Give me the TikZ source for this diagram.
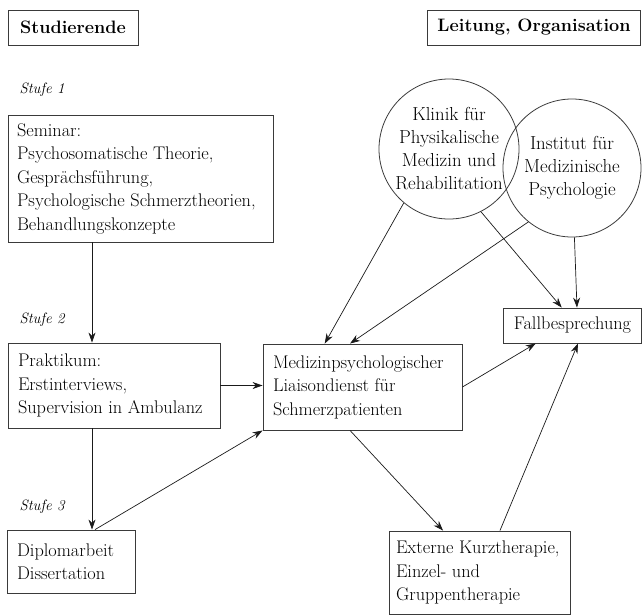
\documentclass[tikz,border=0pt]{standalone}
\usepackage{tikz}
\usetikzlibrary{positioning,shapes.geometric,arrows.meta,calc}
\definecolor{ink}     {HTML}{1A1A1A}
\definecolor{softink} {HTML}{3A3A3A}
\tikzset{
  >={Stealth[length=10pt,width=7pt]},
  every node/.style={font=\fontsize{18.3}{23.5}\selectfont},
  % --- nodes
  box/.style   = {draw=softink, line width=0.9pt, align=flush left, inner xsep=10pt,
                  inner ysep=4pt, anchor=center},
  head/.style  = {box, font=\fontsize{18}{20}\selectfont\bfseries, align=center},
  ring/.style  = {circle, draw=softink, line width=0.8pt, align=center, inner sep=0pt,
                  font=\fontsize{18.8}{23}\selectfont},
  stufe/.style = {anchor=west, font=\fontsize{15}{16}\selectfont\itshape},
  % --- edges
  e/.style     = {->, line width=0.7pt, draw=ink},
}
\begin{document}
\begin{tikzpicture}[x=1pt,y=-1pt]
  \useasboundingbox (0,0) rectangle (642,614);

  \node[head, minimum width=130pt, minimum height=35pt] (stud) at (73,27.5) {Studierende};
  \node[head, minimum width=212pt, minimum height=35pt] (leit) at (534,27.5) {Leitung, Organisation};

  \node[stufe] (st1) at (16,90) {Stufe 1};
  \node[stufe] (st2) at (16,320) {Stufe 2};
  \node[stufe] (st3) at (16,507) {Stufe 3};

  \node[box, text width=247pt, inner xsep=9pt, minimum height=127pt] (sem) at (140.5,178.5)
    {Seminar:\\Psychosomatische Theorie,\\Gespr\"achsf\"uhrung,\\Psychologische Schmerztheorien,\\Behandlungskonzepte};
  \node[box, text width=192pt, minimum height=85pt] (prak) at (114,385.5)
    {Praktikum:\\Erstinterviews,\\Supervision in Ambulanz};
  \node[box, text width=108pt, minimum height=63pt] (dipl) at (71,561.5)
    {Diplomarbeit\\Dissertation};
  \node[box, text width=179pt, minimum height=86pt] (liai) at (362.5,387)
    {Medizinpsychologischer\\Liaisondienst f\"ur\\Schmerzpatienten};
  \node[box, align=center, minimum width=135pt, minimum height=35pt] (fall) at (572.5,325.5)
    {Fallbesprechung};
  \node[box, text width=167pt, inner xsep=7pt, minimum height=83pt] (ext) at (479.5,572.5)
    {Externe Kurztherapie,\\Einzel- und\\Gruppentherapie};

  \node[ring, minimum size=140pt] (klinik) at (449,149)
    {Klinik f\"ur\\Physikalische\\Medizin und\\Rehabilitation};
  \node[ring, minimum size=138pt] (inst) at (572,168)
    {Institut f\"ur\\Medizinische\\Psychologie};

  \coordinate (col) at (92,0);
  \draw[e] (sem.south -| col) -- (prak.north -| col);
  \draw[e] (prak.south -| col) -- (dipl.north -| col);
  \draw[e] (prak.east) -- (prak.east -| liai.west);
  \draw[e] (dipl.53) -- (liai.south west);
  \draw[e] (klinik.230) -- (liai.131);
  \draw[e] (inst.231) -- (liai.106);
  \draw[e] (klinik.297) -- (fall.121);
  \draw[e] (inst.272) -- (fall.76);
  \draw[e] (liai.east) -- (fall.206);
  \draw[e] (liai.254) -- (ext.131);
  \draw[e] (ext.64) -- (fall.287);
\end{tikzpicture}
\end{document}
